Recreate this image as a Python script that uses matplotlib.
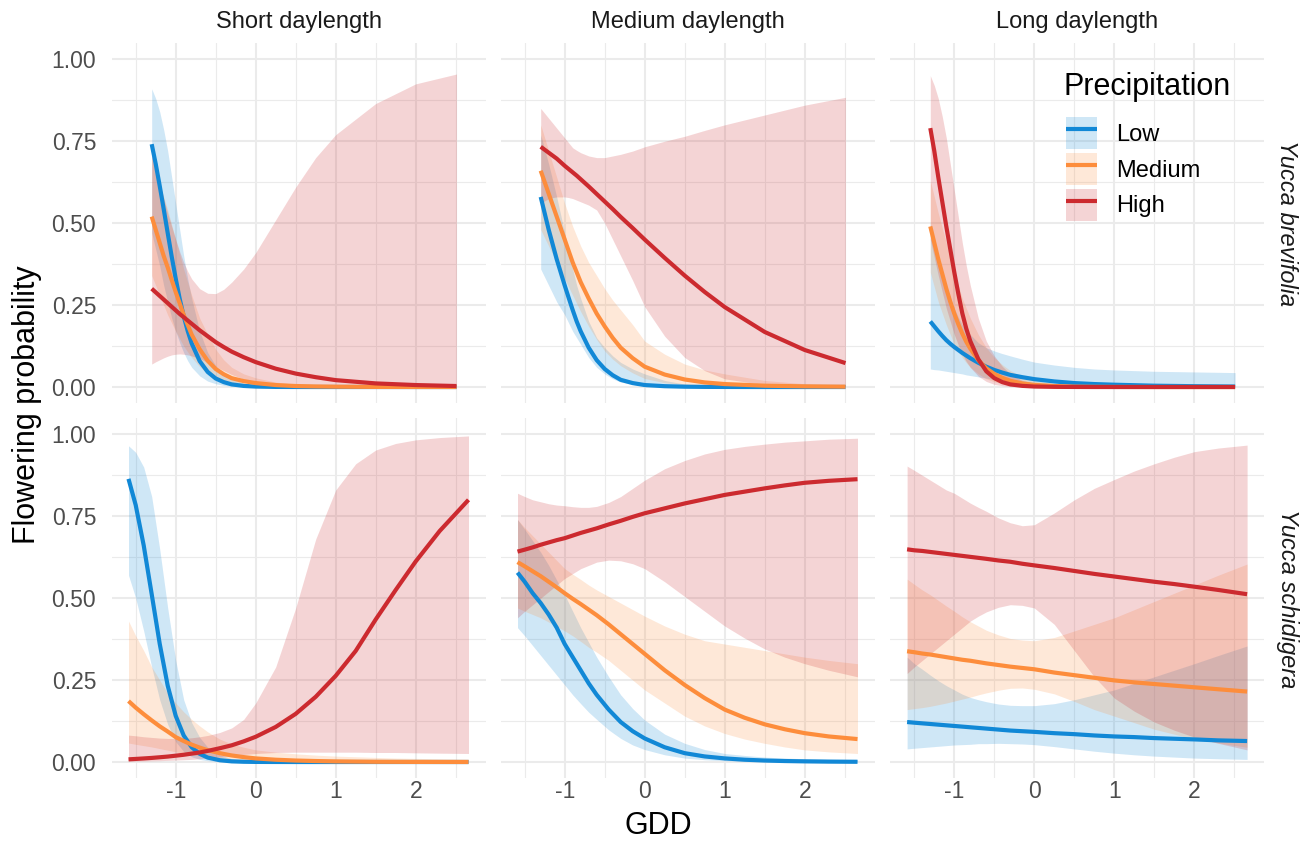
import matplotlib
matplotlib.use("Agg")
import matplotlib.pyplot as plt
from matplotlib.patches import Patch
from matplotlib.lines import Line2D

plt.rcParams['font.family'] = ['Liberation Sans', 'DejaVu Sans']
plt.rcParams['axes.unicode_minus'] = False

# ---------------- data ----------------
species = ["Yucca brevifolia", "Yucca schidigera"]
daylengths = ["Short daylength", "Medium daylength", "Long daylength"]
levels = ["Low", "Medium", "High"]
legend_title = "Precipitation"
x_title = "GDD"
y_title = "Flowering probability"
xtick_vals = [-1, 0, 1, 2]
xtick_labels = ["-1", "0", "1", "2"]
ytick_vals = [0.0, 0.25, 0.5, 0.75, 1.0]
ytick_labels = ["0.00", "0.25", "0.50", "0.75", "1.00"]

# GDD grid, Yucca brevifolia (top row)
x_top = [-1.30, -1.25, -1.2, -1.15, -1.1, -1.05, -1.0, -0.95, -0.9, -0.85, -0.8, -0.7, -0.6,
         -0.5, -0.4, -0.3, -0.15, 0.0, 0.25, 0.5, 0.75, 1.0, 1.5, 2.0, 2.51]
# GDD grid, Yucca schidigera (bottom row)
x_bot = [-1.59, -1.5, -1.4, -1.3, -1.2, -1.1, -1.0, -0.9, -0.8, -0.7, -0.6, -0.45, -0.3,
         -0.15, 0.0, 0.25, 0.5, 0.75, 1.0, 1.25, 1.5, 1.75, 2.0, 2.3, 2.66]

# Yucca brevifolia - short daylength
yb_short_low_fit = [0.741, 0.681, 0.614, 0.543, 0.47, 0.398, 0.331, 0.269, 0.216, 0.171, 0.133, 0.079, 0.046,
                    0.026, 0.015, 0.008, 0.0033, 0.0014, 0.0003, 0.0001, 0, 0, 0, 0, 0]
yb_short_low_lo = [0.47, 0.42, 0.37, 0.31, 0.26, 0.21, 0.17, 0.135, 0.105, 0.08, 0.06, 0.034, 0.018,
                   0.01, 0.005, 0.0025, 0.001, 0.0003, 0, 0, 0, 0, 0, 0, 0]
yb_short_low_hi = [0.91, 0.88, 0.84, 0.785, 0.72, 0.64, 0.56, 0.48, 0.40, 0.33, 0.27, 0.17, 0.105,
                   0.065, 0.04, 0.025, 0.012, 0.006, 0.002, 0.001, 0, 0, 0, 0, 0]
yb_short_med_fit = [0.52, 0.48, 0.44, 0.40, 0.365, 0.327, 0.29, 0.255, 0.22, 0.19, 0.16, 0.115, 0.08,
                    0.055, 0.039, 0.027, 0.018, 0.012, 0.006, 0.003, 0.0017, 0.001, 0.0003, 0.0001, 0]
yb_short_med_lo = [0.34, 0.31, 0.28, 0.25, 0.22, 0.195, 0.17, 0.147, 0.125, 0.107, 0.09, 0.062, 0.04,
                   0.026, 0.018, 0.012, 0.008, 0.005, 0.002, 0.001, 0, 0, 0, 0, 0]
yb_short_med_hi = [0.70, 0.66, 0.62, 0.58, 0.54, 0.495, 0.45, 0.405, 0.36, 0.32, 0.28, 0.21, 0.16,
                   0.115, 0.083, 0.06, 0.04, 0.028, 0.015, 0.008, 0.005, 0.003, 0.001, 0, 0]
yb_short_high_fit = [0.30, 0.289, 0.278, 0.267, 0.256, 0.245, 0.234, 0.223, 0.213, 0.203, 0.193, 0.173, 0.155,
                     0.137, 0.122, 0.108, 0.091, 0.076, 0.056, 0.041, 0.03, 0.021, 0.011, 0.006, 0.003]
yb_short_high_lo = [0.07, 0.077, 0.083, 0.089, 0.094, 0.098, 0.10, 0.101, 0.10, 0.098, 0.095, 0.087, 0.075,
                    0.062, 0.05, 0.038, 0.024, 0.012, 0.005, 0.002, 0.001, 0, 0, 0, 0]
yb_short_high_hi = [0.71, 0.665, 0.62, 0.575, 0.53, 0.49, 0.45, 0.413, 0.38, 0.353, 0.33, 0.30, 0.286,
                    0.285, 0.298, 0.32, 0.36, 0.41, 0.51, 0.61, 0.70, 0.77, 0.865, 0.925, 0.955]

# Yucca brevifolia - medium daylength
yb_med_low_fit = [0.58, 0.53, 0.48, 0.435, 0.39, 0.35, 0.31, 0.272, 0.235, 0.20, 0.17, 0.12, 0.082,
                  0.055, 0.036, 0.022, 0.012, 0.006, 0.0025, 0.001, 0.0004, 0.0002, 0, 0, 0]
yb_med_low_lo = [0.36, 0.335, 0.31, 0.285, 0.26, 0.24, 0.22, 0.195, 0.17, 0.15, 0.13, 0.09, 0.06,
                 0.04, 0.025, 0.015, 0.008, 0.004, 0.0015, 0.0005, 0, 0, 0, 0, 0]
yb_med_low_hi = [0.77, 0.725, 0.68, 0.63, 0.58, 0.525, 0.47, 0.415, 0.36, 0.31, 0.27, 0.20, 0.15,
                 0.12, 0.095, 0.075, 0.055, 0.04, 0.02, 0.009, 0.004, 0.002, 0.0005, 0, 0]
yb_med_med_fit = [0.66, 0.625, 0.59, 0.555, 0.52, 0.485, 0.45, 0.415, 0.38, 0.35, 0.32, 0.27, 0.224,
                  0.185, 0.15, 0.12, 0.088, 0.062, 0.038, 0.023, 0.014, 0.009, 0.004, 0.002, 0.001]
yb_med_med_lo = [0.48, 0.455, 0.43, 0.405, 0.38, 0.355, 0.33, 0.305, 0.28, 0.255, 0.23, 0.185, 0.145,
                 0.11, 0.085, 0.065, 0.043, 0.026, 0.013, 0.007, 0.004, 0.002, 0.0005, 0, 0]
yb_med_med_hi = [0.80, 0.76, 0.72, 0.68, 0.64, 0.60, 0.56, 0.525, 0.49, 0.46, 0.43, 0.38, 0.34,
                 0.30, 0.265, 0.235, 0.19, 0.14, 0.10, 0.07, 0.052, 0.04, 0.02, 0.01, 0.005]
yb_med_high_fit = [0.733, 0.724, 0.715, 0.706, 0.697, 0.686, 0.675, 0.665, 0.655, 0.645, 0.634, 0.612, 0.589,
                   0.566, 0.543, 0.519, 0.485, 0.45, 0.394, 0.34, 0.29, 0.244, 0.168, 0.113, 0.073]
yb_med_high_lo = [0.56, 0.568, 0.575, 0.578, 0.58, 0.58, 0.58, 0.578, 0.575, 0.57, 0.565, 0.555, 0.54,
                  0.50, 0.45, 0.40, 0.325, 0.245, 0.155, 0.09, 0.05, 0.025, 0.007, 0.002, 0.001]
yb_med_high_hi = [0.85, 0.835, 0.82, 0.805, 0.79, 0.775, 0.76, 0.745, 0.73, 0.722, 0.715, 0.705, 0.70,
                  0.70, 0.705, 0.71, 0.72, 0.733, 0.75, 0.765, 0.783, 0.80, 0.83, 0.86, 0.884]

# Yucca brevifolia - long daylength
yb_long_low_fit = [0.20, 0.185, 0.17, 0.156, 0.143, 0.132, 0.122, 0.113, 0.104, 0.096, 0.088, 0.074, 0.062,
                   0.052, 0.044, 0.037, 0.03, 0.024, 0.017, 0.012, 0.009, 0.007, 0.004, 0.0025, 0.0015]
yb_long_low_lo = [0.055, 0.053, 0.052, 0.05, 0.048, 0.046, 0.044, 0.042, 0.04, 0.037, 0.035, 0.031, 0.027,
                  0.023, 0.019, 0.016, 0.012, 0.008, 0.004, 0.002, 0.001, 0.0007, 0.0002, 0, 0]
yb_long_low_hi = [0.50, 0.45, 0.40, 0.355, 0.31, 0.272, 0.24, 0.213, 0.19, 0.173, 0.16, 0.135, 0.12,
                  0.11, 0.102, 0.095, 0.085, 0.076, 0.067, 0.06, 0.055, 0.052, 0.048, 0.046, 0.044]
yb_long_med_fit = [0.49, 0.44, 0.39, 0.345, 0.30, 0.26, 0.224, 0.192, 0.163, 0.138, 0.117, 0.082, 0.057,
                   0.04, 0.028, 0.019, 0.011, 0.0065, 0.003, 0.0012, 0.0005, 0.0002, 0, 0, 0]
yb_long_med_lo = [0.35, 0.305, 0.26, 0.225, 0.19, 0.16, 0.13, 0.11, 0.09, 0.074, 0.06, 0.04, 0.025,
                  0.016, 0.01, 0.006, 0.003, 0.002, 0.0007, 0, 0, 0, 0, 0, 0]
yb_long_med_hi = [0.63, 0.58, 0.53, 0.485, 0.44, 0.395, 0.35, 0.31, 0.27, 0.24, 0.21, 0.16, 0.12,
                  0.09, 0.068, 0.05, 0.032, 0.02, 0.01, 0.005, 0.002, 0.001, 0, 0, 0]
yb_long_high_fit = [0.79, 0.72, 0.64, 0.565, 0.49, 0.42, 0.35, 0.285, 0.225, 0.178, 0.14, 0.085, 0.048,
                    0.027, 0.015, 0.008, 0.0035, 0.0015, 0.0005, 0.0002, 0, 0, 0, 0, 0]
yb_long_high_lo = [0.45, 0.395, 0.34, 0.29, 0.24, 0.20, 0.16, 0.128, 0.10, 0.078, 0.06, 0.033, 0.017,
                   0.008, 0.004, 0.0015, 0.0005, 0.0002, 0, 0, 0, 0, 0, 0, 0]
yb_long_high_hi = [0.95, 0.92, 0.88, 0.825, 0.76, 0.68, 0.60, 0.52, 0.44, 0.37, 0.31, 0.21, 0.14,
                   0.095, 0.063, 0.04, 0.02, 0.012, 0.005, 0.002, 0.001, 0.0005, 0, 0, 0]

# Yucca schidigera - short daylength
ys_short_low_fit = [0.864, 0.784, 0.661, 0.512, 0.361, 0.233, 0.141, 0.081, 0.045, 0.025, 0.0135, 0.0055, 0.002,
                    0.0008, 0.0003, 0.0001, 0, 0, 0, 0, 0, 0, 0, 0, 0]
ys_short_low_lo = [0.57, 0.50, 0.40, 0.29, 0.19, 0.115, 0.062, 0.032, 0.016, 0.008, 0.004, 0.001, 0,
                   0, 0, 0, 0, 0, 0, 0, 0, 0, 0, 0, 0]
ys_short_low_hi = [0.965, 0.945, 0.90, 0.81, 0.65, 0.47, 0.31, 0.19, 0.12, 0.075, 0.045, 0.022, 0.01,
                   0.005, 0.002, 0.0005, 0, 0, 0, 0, 0, 0, 0, 0, 0]
ys_short_med_fit = [0.186, 0.166, 0.146, 0.127, 0.109, 0.093, 0.076, 0.064, 0.053, 0.044, 0.036, 0.027, 0.02,
                    0.015, 0.011, 0.007, 0.0045, 0.003, 0.0018, 0.0012, 0.0007, 0.0005, 0.0003, 0.0002, 0.0001]
ys_short_med_lo = [0.058, 0.054, 0.05, 0.046, 0.041, 0.036, 0.031, 0.026, 0.022, 0.018, 0.015, 0.01, 0.007,
                   0.005, 0.003, 0.0015, 0.0007, 0.0003, 0, 0, 0, 0, 0, 0, 0]
ys_short_med_hi = [0.43, 0.385, 0.34, 0.29, 0.25, 0.21, 0.18, 0.153, 0.13, 0.11, 0.092, 0.07, 0.055,
                   0.045, 0.037, 0.03, 0.025, 0.021, 0.018, 0.016, 0.014, 0.012, 0.011, 0.01, 0.009]
ys_short_high_fit = [0.0082, 0.0094, 0.0109, 0.0125, 0.0145, 0.0166, 0.0193, 0.0221, 0.0256, 0.0293, 0.0339, 0.042, 0.051,
                     0.063, 0.077, 0.107, 0.147, 0.199, 0.263, 0.339, 0.435, 0.525, 0.612, 0.705, 0.80]
ys_short_high_lo = [0.002, 0.0025, 0.003, 0.0035, 0.004, 0.005, 0.006, 0.007, 0.008, 0.01, 0.012, 0.015, 0.019,
                    0.023, 0.026, 0.029, 0.03, 0.03, 0.03, 0.03, 0.029, 0.029, 0.028, 0.027, 0.026]
ys_short_high_hi = [0.082, 0.08, 0.077, 0.075, 0.073, 0.072, 0.072, 0.072, 0.074, 0.077, 0.081, 0.09, 0.104,
                    0.13, 0.18, 0.29, 0.47, 0.68, 0.83, 0.91, 0.952, 0.972, 0.983, 0.99, 0.995]

# Yucca schidigera - medium daylength
ys_med_low_fit = [0.578, 0.55, 0.515, 0.485, 0.45, 0.41, 0.36, 0.32, 0.28, 0.24, 0.205, 0.16, 0.122,
                  0.094, 0.072, 0.045, 0.027, 0.017, 0.011, 0.007, 0.0045, 0.003, 0.002, 0.0012, 0.0007]
ys_med_low_lo = [0.41, 0.385, 0.355, 0.325, 0.295, 0.265, 0.235, 0.205, 0.178, 0.152, 0.13, 0.098, 0.072,
                 0.052, 0.038, 0.022, 0.012, 0.007, 0.004, 0.0025, 0.0015, 0.001, 0.0005, 0.0003, 0.0001]
ys_med_low_hi = [0.74, 0.71, 0.675, 0.64, 0.60, 0.555, 0.51, 0.46, 0.41, 0.365, 0.32, 0.26, 0.205,
                 0.163, 0.128, 0.085, 0.057, 0.038, 0.026, 0.02, 0.015, 0.012, 0.01, 0.008, 0.007]
ys_med_med_fit = [0.61, 0.597, 0.582, 0.567, 0.55, 0.533, 0.515, 0.498, 0.482, 0.465, 0.448, 0.42, 0.39,
                  0.36, 0.33, 0.28, 0.235, 0.195, 0.16, 0.135, 0.115, 0.10, 0.088, 0.078, 0.07]
ys_med_med_lo = [0.47, 0.46, 0.45, 0.44, 0.427, 0.414, 0.40, 0.385, 0.368, 0.35, 0.335, 0.31, 0.28,
                 0.25, 0.22, 0.18, 0.14, 0.11, 0.087, 0.07, 0.057, 0.046, 0.037, 0.031, 0.026]
ys_med_med_hi = [0.74, 0.715, 0.69, 0.665, 0.64, 0.615, 0.59, 0.573, 0.557, 0.54, 0.525, 0.505, 0.485,
                 0.465, 0.445, 0.415, 0.39, 0.37, 0.36, 0.35, 0.34, 0.33, 0.32, 0.31, 0.30]
ys_med_high_fit = [0.642, 0.648, 0.655, 0.663, 0.67, 0.677, 0.683, 0.691, 0.699, 0.706, 0.713, 0.725, 0.736,
                   0.748, 0.759, 0.774, 0.789, 0.802, 0.815, 0.825, 0.835, 0.844, 0.852, 0.858, 0.863]
ys_med_high_lo = [0.44, 0.46, 0.48, 0.50, 0.52, 0.54, 0.56, 0.575, 0.59, 0.60, 0.61, 0.616, 0.614,
                  0.605, 0.59, 0.55, 0.505, 0.46, 0.415, 0.378, 0.345, 0.32, 0.30, 0.28, 0.26]
ys_med_high_hi = [0.82, 0.81, 0.80, 0.794, 0.788, 0.784, 0.782, 0.779, 0.777, 0.777, 0.78, 0.792, 0.81,
                  0.835, 0.86, 0.895, 0.92, 0.94, 0.954, 0.963, 0.97, 0.976, 0.98, 0.985, 0.988]

# Yucca schidigera - long daylength
ys_long_low_fit = [0.122, 0.12, 0.118, 0.116, 0.114, 0.112, 0.11, 0.108, 0.106, 0.104, 0.102, 0.099, 0.096,
                   0.094, 0.092, 0.088, 0.085, 0.081, 0.078, 0.076, 0.073, 0.071, 0.069, 0.066, 0.064]
ys_long_low_lo = [0.04, 0.042, 0.044, 0.046, 0.048, 0.05, 0.052, 0.053, 0.054, 0.056, 0.056, 0.057, 0.056,
                  0.055, 0.053, 0.047, 0.04, 0.033, 0.027, 0.022, 0.018, 0.015, 0.012, 0.01, 0.008]
ys_long_low_hi = [0.32, 0.30, 0.283, 0.265, 0.248, 0.233, 0.22, 0.207, 0.197, 0.19, 0.184, 0.177, 0.173,
                  0.172, 0.172, 0.178, 0.19, 0.205, 0.22, 0.24, 0.26, 0.28, 0.30, 0.325, 0.354]
ys_long_med_fit = [0.338, 0.335, 0.331, 0.328, 0.324, 0.32, 0.316, 0.312, 0.309, 0.305, 0.301, 0.296, 0.291,
                   0.287, 0.283, 0.273, 0.265, 0.257, 0.249, 0.243, 0.238, 0.233, 0.228, 0.222, 0.215]
ys_long_med_lo = [0.16, 0.163, 0.166, 0.17, 0.175, 0.18, 0.186, 0.192, 0.198, 0.205, 0.211, 0.219, 0.225,
                  0.226, 0.222, 0.208, 0.185, 0.16, 0.14, 0.12, 0.10, 0.085, 0.07, 0.058, 0.045]
ys_long_med_hi = [0.558, 0.542, 0.525, 0.51, 0.493, 0.476, 0.46, 0.443, 0.428, 0.415, 0.402, 0.388, 0.377,
                  0.372, 0.37, 0.38, 0.40, 0.42, 0.44, 0.465, 0.49, 0.515, 0.54, 0.57, 0.604]
ys_long_high_fit = [0.649, 0.646, 0.644, 0.641, 0.638, 0.635, 0.632, 0.629, 0.626, 0.623, 0.62, 0.615, 0.611,
                    0.605, 0.60, 0.592, 0.583, 0.574, 0.566, 0.558, 0.55, 0.543, 0.535, 0.525, 0.512]
ys_long_high_lo = [0.27, 0.29, 0.31, 0.33, 0.35, 0.37, 0.39, 0.41, 0.43, 0.445, 0.458, 0.472, 0.48,
                   0.478, 0.47, 0.42, 0.34, 0.26, 0.195, 0.155, 0.122, 0.097, 0.076, 0.057, 0.037]
ys_long_high_hi = [0.903, 0.89, 0.875, 0.86, 0.845, 0.83, 0.82, 0.805, 0.79, 0.777, 0.765, 0.745, 0.73,
                   0.721, 0.724, 0.76, 0.80, 0.835, 0.862, 0.888, 0.91, 0.93, 0.947, 0.958, 0.967]

# ---------------- assemble ----------------
panels = {
    (0, 0): [(yb_short_low_fit, yb_short_low_lo, yb_short_low_hi),
             (yb_short_med_fit, yb_short_med_lo, yb_short_med_hi),
             (yb_short_high_fit, yb_short_high_lo, yb_short_high_hi)],
    (0, 1): [(yb_med_low_fit, yb_med_low_lo, yb_med_low_hi),
             (yb_med_med_fit, yb_med_med_lo, yb_med_med_hi),
             (yb_med_high_fit, yb_med_high_lo, yb_med_high_hi)],
    (0, 2): [(yb_long_low_fit, yb_long_low_lo, yb_long_low_hi),
             (yb_long_med_fit, yb_long_med_lo, yb_long_med_hi),
             (yb_long_high_fit, yb_long_high_lo, yb_long_high_hi)],
    (1, 0): [(ys_short_low_fit, ys_short_low_lo, ys_short_low_hi),
             (ys_short_med_fit, ys_short_med_lo, ys_short_med_hi),
             (ys_short_high_fit, ys_short_high_lo, ys_short_high_hi)],
    (1, 1): [(ys_med_low_fit, ys_med_low_lo, ys_med_low_hi),
             (ys_med_med_fit, ys_med_med_lo, ys_med_med_hi),
             (ys_med_high_fit, ys_med_high_lo, ys_med_high_hi)],
    (1, 2): [(ys_long_low_fit, ys_long_low_lo, ys_long_low_hi),
             (ys_long_med_fit, ys_long_med_lo, ys_long_med_hi),
             (ys_long_high_fit, ys_long_high_lo, ys_long_high_hi)],
}
row_x = [x_top, x_bot]

colors = ["#1188d6", "#fd8d3c", "#cc2a2f"]
band_alpha = 0.2
LW = 3.0

W, H = 1311, 849
fig = plt.figure(figsize=(W / 100, H / 100), dpi=100)

col_left = [111.5, 500.5, 890.1]
panel_w = 374.0
row_top = [42.9, 417.9]
panel_h = 360.5

TICK_FS = 16.5
STRIP_FS = 17
TITLE_FS = 22
LEG_FS = 17

axes = {}
for r in range(2):
    for c in range(3):
        ax = fig.add_axes([col_left[c] / W, 1 - (row_top[r] + panel_h) / H, panel_w / W, panel_h / H])
        axes[(r, c)] = ax
        ax.set_xlim(-1.8025, 2.8725)
        ax.set_ylim(-0.05, 1.05)
        for s in ax.spines.values():
            s.set_visible(False)
        ax.set_xticks(xtick_vals)
        ax.set_xticks([-1.5, -0.5, 0.5, 1.5, 2.5], minor=True)
        ax.set_yticks(ytick_vals)
        ax.set_yticks([0.125, 0.375, 0.625, 0.875], minor=True)
        ax.grid(which='major', color='#ebebeb', linewidth=1.5)
        ax.grid(which='minor', color='#ebebeb', linewidth=0.8)
        ax.set_axisbelow(True)
        ax.tick_params(which='both', length=0)
        if r == 1:
            ax.set_xticklabels(xtick_labels, fontsize=TICK_FS, color='#4d4d4d')
            ax.tick_params(axis='x', pad=1)
        else:
            ax.set_xticklabels([])
        if c == 0:
            ax.set_yticklabels(ytick_labels, fontsize=TICK_FS, color='#4d4d4d')
            ax.tick_params(axis='y', pad=11)
        else:
            ax.set_yticklabels([])

        xs = row_x[r]
        series = panels[(r, c)]
        for (fit, lo, hi), col in zip(series, colors):
            ax.fill_between(xs, lo, hi, color=col, alpha=band_alpha, linewidth=0)
        for (fit, lo, hi), col in zip(series, colors):
            ax.plot(xs, fit, color=col, linewidth=LW, solid_capstyle='butt', solid_joinstyle='round')

# strip labels (top)
for c, lab in enumerate(daylengths):
    fig.text((col_left[c] + panel_w / 2) / W, 1 - 22 / H, lab, ha='center', va='center',
             fontsize=STRIP_FS, color='#1a1a1a')
# strip labels (right)
for r, lab in enumerate(species):
    fig.text(1287 / W, 1 - (row_top[r] + panel_h / 2) / H, lab, ha='center', va='center',
             rotation=270, fontsize=STRIP_FS, color='#1a1a1a', style='italic')

# axis titles
fig.text(27 / W, 1 - 405 / H, y_title, rotation=90, ha='center', va='center',
         fontsize=TITLE_FS, color='black')
fig.text(658 / W, 1 - 826 / H, x_title, ha='center', va='center',
         fontsize=TITLE_FS, color='black')

# legend
fig.text(1064 / W, 1 - 87 / H, legend_title, ha='left', va='center', fontsize=TITLE_FS, color='black')
handles = [(Patch(facecolor=col, alpha=band_alpha, edgecolor='none'),
            Line2D([], [], color=col, linewidth=LW, solid_capstyle='butt')) for col in colors]
leg = axes[(0, 2)].legend(handles, levels, loc='upper left',
                          bbox_to_anchor=(1066 / W, 1 - 117 / H), bbox_transform=fig.transFigure,
                          frameon=False, fontsize=LEG_FS,
                          handlelength=1.33, handleheight=1.7, labelspacing=0.17,
                          handletextpad=0.8, borderpad=0, borderaxespad=0)

fig.savefig("out.png", dpi=100, facecolor='white')
